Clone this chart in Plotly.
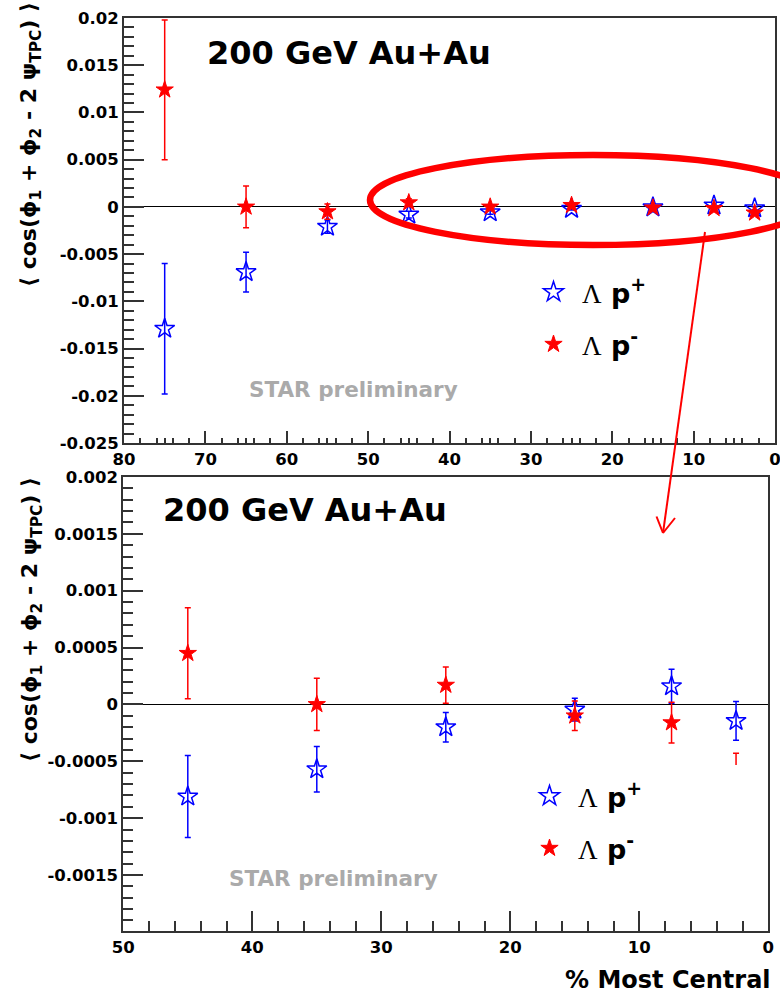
import plotly.graph_objects as go

W, H = 780, 995


def px(x):
    return x / W


def py(y):
    return 1 - y / H


# ---------------- data ----------------
centrality = [75, 65, 55, 45, 35, 25, 15, 7.5, 2.5]
lp_plus = [-0.0129, -0.0069, -0.0021, -0.00081, -0.00057, -0.00020, -0.000045, 0.00016, -0.000145]
lp_plus_err = [0.0069, 0.0021, 0.0007, 0.00036, 0.00020, 0.00013, 0.00010, 0.00015, 0.00017]
lp_minus = [0.0124, 0.0000, -0.0005, 0.00045, 0.0000, 0.00017, -0.00010, -0.00016, -0.00063]
lp_minus_err = [0.0074, 0.0022, 0.0008, 0.00040, 0.00023, 0.00016, 0.00013, 0.00018, 0.00020]

top_yticks = [0.02, 0.015, 0.01, 0.005, 0, -0.005, -0.01, -0.015, -0.02, -0.025]
top_ytext = ["0.02", "0.015", "0.01", "0.005", "0", "-0.005", "-0.01", "-0.015", "-0.02", "-0.025"]
bot_yticks = [0.002, 0.0015, 0.001, 0.0005, 0, -0.0005, -0.001, -0.0015]
bot_ytext = ["0.002", "0.0015", "0.001", "0.0005", "0", "-0.0005", "-0.001", "-0.0015"]
top_xticks = [80, 70, 60, 50, 40, 30, 20, 10, 0]
bot_xticks = [50, 40, 30, 20, 10, 0]
top_xminor = [d + o for d in range(0, 80, 10) for o in (2, 4, 5, 6, 8)]
bot_xminor = [v for v in range(2, 50, 2) if v % 10]

label_plus = "<span style='font-family:Liberation Serif;font-weight:normal'>Λ</span> p<sup>+</sup>"
label_minus = "<span style='font-family:Liberation Serif;font-weight:normal'>Λ</span> p<sup>-</sup>"

BLUE = "#0000ff"
RED = "#ff0000"
FRAME = "#333333"
FONT = "DejaVu Sans"

fig = go.Figure()

for xa, ya, leg in (("x", "y", "legend"), ("x2", "y2", "legend2")):
    fig.add_trace(go.Scatter(
        x=centrality, y=lp_plus, mode="markers", name=label_plus,
        xaxis=xa, yaxis=ya, legend=leg, legendgroup=leg + "p",
        marker=dict(symbol="star-open", size=15, color=BLUE, line=dict(color=BLUE, width=1.5)),
        error_y=dict(type="data", array=lp_plus_err, color=BLUE, thickness=1.5, width=3),
    ))
    fig.add_trace(go.Scatter(
        x=centrality, y=lp_minus, mode="markers", name=label_minus,
        xaxis=xa, yaxis=ya, legend=leg, legendgroup=leg + "m",
        marker=dict(symbol="star", size=13, color=RED, line=dict(color=RED, width=1)),
        error_y=dict(type="data", array=lp_minus_err, color=RED, thickness=1.5, width=3),
    ))

tickfont = dict(family=FONT, size=16.5, color="black", weight="bold")

common_axis = dict(showgrid=False, showline=True, linecolor=FRAME, linewidth=2, mirror=True,
                   ticks="inside", tickcolor=FRAME, tickwidth=1.5, tickfont=tickfont,
                   ticklabeloverflow="allow")

fig.update_layout(
    width=W, height=H,
    margin=dict(l=0, r=0, t=0, b=0, autoexpand=False),
    paper_bgcolor="white", plot_bgcolor="white",
    xaxis=dict(domain=[px(124), px(775)], range=[80, 0], anchor="y",
               tickmode="array", tickvals=top_xticks, ticktext=[str(v) for v in top_xticks],
               ticklen=12, zeroline=False,
               minor=dict(tickmode="array", tickvals=top_xminor, ticklen=5, ticks="inside",
                          tickcolor=FRAME, tickwidth=1.5),
               **common_axis),
    yaxis=dict(domain=[py(443), py(18)], range=[-0.025, 0.02], anchor="x",
               tickmode="array", tickvals=top_yticks, ticktext=top_ytext,
               ticklen=20, zeroline=True, zerolinecolor="black", zerolinewidth=1,
               minor=dict(tick0=0, dtick=0.001, ticklen=10, ticks="inside",
                          tickcolor=FRAME, tickwidth=1.5),
               **common_axis),
    xaxis2=dict(domain=[px(123.3), px(768.3)], range=[50, 0], anchor="y2",
                tickmode="array", tickvals=bot_xticks, ticktext=[str(v) for v in bot_xticks],
                ticklen=20, zeroline=False,
                minor=dict(tickmode="array", tickvals=bot_xminor, ticklen=10, ticks="inside",
                           tickcolor=FRAME, tickwidth=1.5),
                **common_axis),
    yaxis2=dict(domain=[py(930.7), py(477)], range=[-0.00199, 0.002], anchor="x2",
                tickmode="array", tickvals=bot_yticks, ticktext=bot_ytext,
                ticklen=20, zeroline=True, zerolinecolor="black", zerolinewidth=1,
                minor=dict(tick0=0, dtick=0.0001, ticklen=10, ticks="inside",
                           tickcolor=FRAME, tickwidth=1.5),
                **common_axis),
    legend=dict(x=px(525), y=py(268), xanchor="left", yanchor="top",
                bgcolor="rgba(0,0,0,0)", traceorder="grouped", tracegroupgap=14,
                itemwidth=47, itemsizing="trace",
                font=dict(family=FONT, size=27, color="black", weight="bold")),
    legend2=dict(x=px(521), y=py(772), xanchor="left", yanchor="top",
                 bgcolor="rgba(0,0,0,0)", traceorder="grouped", tracegroupgap=14,
                 itemwidth=47, itemsizing="trace",
                 font=dict(family=FONT, size=27, color="black", weight="bold")),
)

shapes = [
    # white legend box of the lower pad (covers what lies behind it)
    dict(type="rect", xref="paper", yref="paper", x0=px(520), x1=px(766), y0=py(765), y1=py(870),
         fillcolor="white", line=dict(width=0), layer="above"),
    # red highlight ellipse
    dict(type="circle", xref="paper", yref="paper", x0=px(370), x1=px(816), y0=py(245), y1=py(155),
         line=dict(color=RED, width=6.5), layer="above"),
    # arrow
    dict(type="line", xref="paper", yref="paper", x0=px(705), y0=py(232), x1=px(663), y1=py(533),
         line=dict(color=RED, width=2), layer="above"),
    dict(type="line", xref="paper", yref="paper", x0=px(656.5), y0=py(516.5), x1=px(663), y1=py(533),
         line=dict(color=RED, width=2), layer="above"),
    dict(type="line", xref="paper", yref="paper", x0=px(675), y0=py(518), x1=px(663), y1=py(533),
         line=dict(color=RED, width=2), layer="above"),
]
fig.update_layout(shapes=shapes)

ytitle = "⟨ cos(ϕ<sub>1</sub> + ϕ<sub>2</sub> - 2 ψ<sub>TPC</sub>) ⟩"
annotations = [
    dict(text="200 GeV Au+Au", x=px(349), y=py(53), font=dict(family=FONT, size=32, color="black", weight="bold")),
    dict(text="200 GeV Au+Au", x=px(305), y=py(510), font=dict(family=FONT, size=32, color="black", weight="bold")),
    dict(text="STAR preliminary", x=px(353), y=py(389), font=dict(family=FONT, size=21.5, color="#aaaaaa", weight="bold")),
    dict(text="STAR preliminary", x=px(333), y=py(878), font=dict(family=FONT, size=21.5, color="#aaaaaa", weight="bold")),
    dict(text="% Most Central", x=px(773), y=py(980), xanchor="right",
         font=dict(family=FONT, size=24, color="black", weight="bold")),
    dict(text=ytitle, x=px(31), y=py(145), textangle=-90,
         font=dict(family=FONT, size=22, color="black", weight="bold")),
    dict(text=ytitle, x=px(31), y=py(620), textangle=-90,
         font=dict(family=FONT, size=22, color="black", weight="bold")),
]
for a in annotations:
    a.setdefault("xanchor", "center")
    a.setdefault("yanchor", "middle")
    a.update(xref="paper", yref="paper", showarrow=False)
fig.update_layout(annotations=annotations)

fig.write_html(
    "out.html",
    config={"displayModeBar": False},
    post_script="document.body.style.margin='0';document.body.style.overflow='hidden';",
)
